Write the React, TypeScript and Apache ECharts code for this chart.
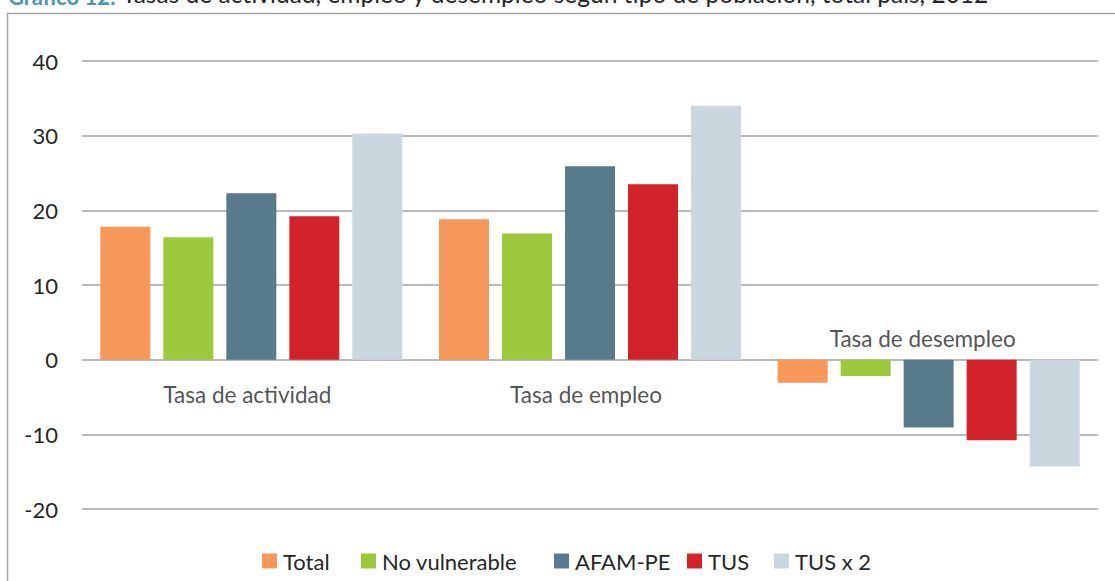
import React, { useEffect, useRef } from "react";
import * as echarts from "echarts";

// ---- data ----
const categories = ["Tasa de actividad", "Tasa de empleo", "Tasa de desempleo"];
const seriesNames = ["Total", "No vulnerable", "AFAM-PE", "TUS", "TUS x 2"];
const totalValues = [17.8, 18.8, -3.1];
const noVulnerableValues = [16.4, 16.9, -2.2];
const afamValues = [22.3, 25.9, -9.1];
const tusValues = [19.2, 23.5, -10.8];
const tusX2Values = [30.3, 34.0, -14.3];
const yMin = -20;
const yMax = 40;
const yInterval = 10;
const titleLabel = "Gráfico 12:";
const titleText = "Tasas de actividad, empleo y desempleo según tipo de población, total país, 2012";

// ---- styles ----
const seriesColors = ["#F79759", "#9BC93B", "#577B8B", "#D2232A", "#CBD7DF"];
const legendLefts = [262, 361, 554, 687, 774];
const FONT = "Lato";
const GRID_COLOR = "#a3a3a3";
const TEXT_COLOR = "#262626";

export default function App() {
  const ref = useRef<HTMLDivElement>(null);

  useEffect(() => {
    if (!ref.current) return;
    const chart = echarts.init(ref.current, undefined, { renderer: "svg" });
    const allValues = [totalValues, noVulnerableValues, afamValues, tusValues, tusX2Values];
    const negativeCat = categories.map((_, i) => allValues.reduce((s, arr) => s + arr[i], 0) < 0);

    const option: any = {
      animation: false,
      backgroundColor: "#ffffff",
      textStyle: { fontFamily: FONT },
      graphic: [
        {
          type: "rect",
          shape: { x: 7.5, y: 13.5, width: 1200, height: 700 },
          style: { fill: "none", stroke: "#a6a6a6", lineWidth: 1.5 },
          silent: true,
        },
        {
          type: "text",
          x: 8,
          y: -4,
          style: {
            text: titleLabel,
            fontFamily: FONT,
            fontSize: 22,
            fontWeight: "bold",
            fill: "#4b95b8",
            verticalAlign: "middle",
            align: "left",
          },
        },
        {
          type: "text",
          x: 122,
          y: -7,
          style: {
            text: titleText,
            fontFamily: FONT,
            fontSize: 24.5,
            fill: TEXT_COLOR,
            verticalAlign: "middle",
            align: "left",
          },
        },
      ],
      grid: { left: 82, right: 17, top: 61, bottom: 72, containLabel: false },
      xAxis: {
        type: "category",
        data: categories,
        axisLine: { show: false },
        axisTick: { show: false },
        axisLabel: { show: false },
      },
      yAxis: {
        type: "value",
        min: yMin,
        max: yMax,
        interval: yInterval,
        axisLine: { show: false },
        axisTick: { show: false },
        axisLabel: { margin: 24, fontFamily: FONT, fontSize: 22, color: TEXT_COLOR },
        splitLine: { show: true, lineStyle: { color: GRID_COLOR, width: 1.5 } },
      },
      legend: seriesNames.map((name, i) => ({
        data: [name],
        left: legendLefts[i],
        top: 550,
        padding: 0,
        itemWidth: 15,
        itemHeight: 15,
        itemGap: 0,
        icon: "rect",
        selectedMode: false,
        textStyle: { fontFamily: FONT, fontSize: 22, color: TEXT_COLOR, padding: [0, 0, 0, 1] },
      })),
      series: [
        ...allValues.map((vals, i) => ({
          name: seriesNames[i],
          type: "bar",
          data: vals,
          barWidth: 50,
          barGap: "26%",
          itemStyle: { color: seriesColors[i] },
        })),
        {
          name: "categoryLabels",
          type: "scatter",
          symbolSize: 0,
          silent: true,
          z: 10,
          data: categories.map((c, i) => ({
            value: [i, 0],
            label: {
              show: true,
              formatter: c,
              position: negativeCat[i] ? "top" : "bottom",
              distance: negativeCat[i] ? 10 : 23,
              offset: [negativeCat[i] ? -6 : -4, 0],
              fontFamily: FONT,
              fontSize: 22.5,
              color: TEXT_COLOR,
            },
          })),
        },
      ],
    };
    chart.setOption(option);
    return () => chart.dispose();
  }, []);

  return (
    <div
      ref={ref}
      style={{ position: "fixed", left: 0, top: 0, width: 1115, height: 581, background: "#fff" }}
    />
  );
}
